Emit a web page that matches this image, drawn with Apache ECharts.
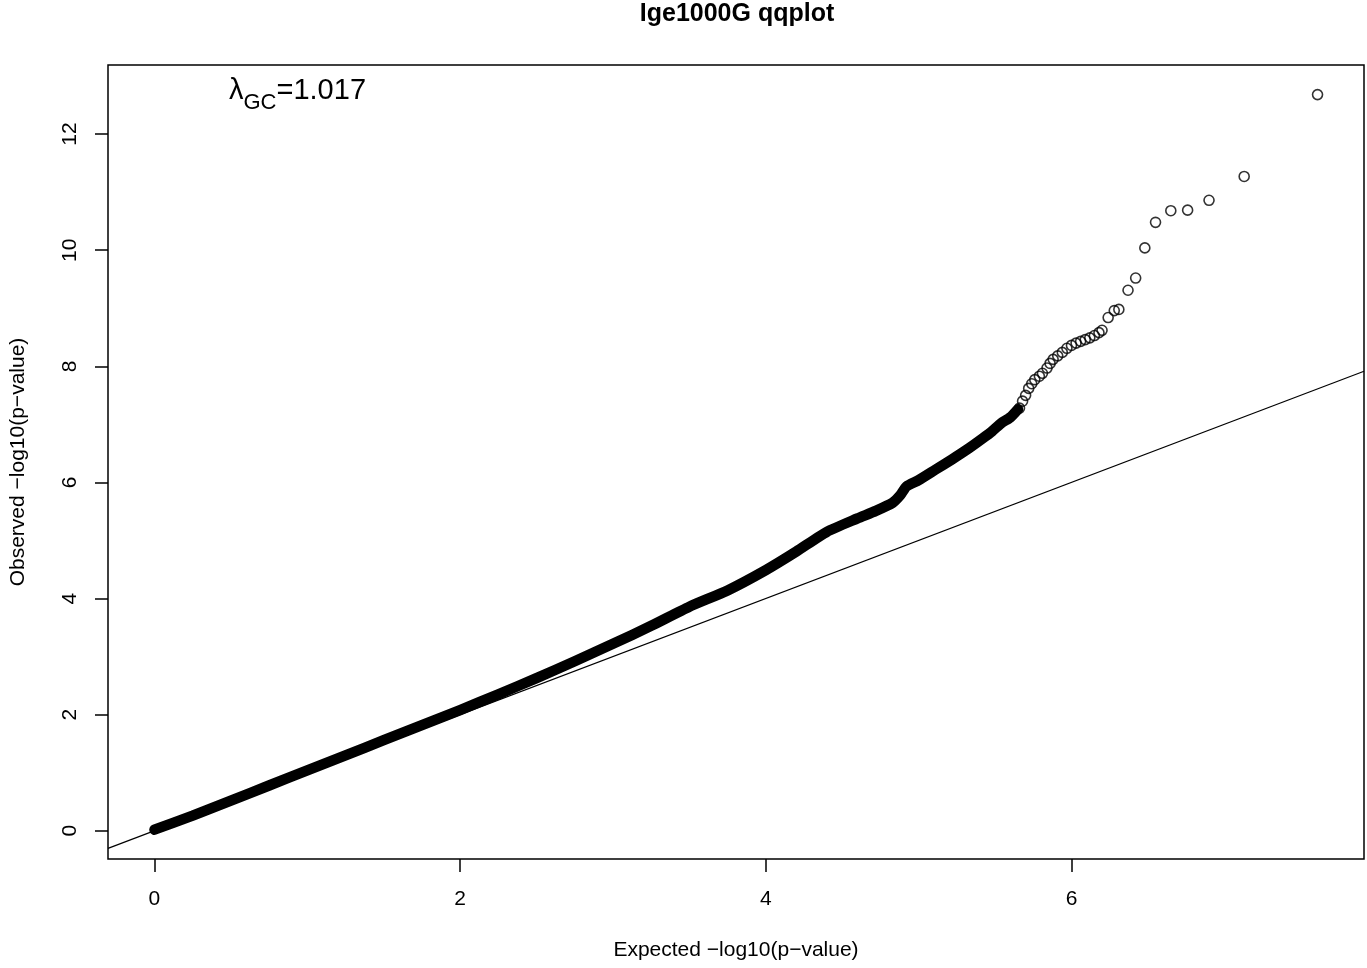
<!DOCTYPE html>
<html>
<head>
<meta charset="utf-8">
<script src="https://cdn.jsdelivr.net/npm/echarts@6.0.0/dist/echarts.min.js"></script>
<style>
  html, body { margin: 0; padding: 0; background: #fff; }
  #main { width: 1367px; height: 968px; }
</style>
</head>
<body>
<div id="main"></div>
<script>
// dense part of the qq curve
const denseExpected = [0.00, 0.25, 0.50, 0.75, 1.00, 1.25, 1.50, 1.75, 2.00, 2.25, 2.50, 2.75, 3.00, 3.25, 3.50, 3.75, 4.00,
  4.20, 4.40, 4.60, 4.72, 4.83, 4.88, 4.92, 5.00, 5.11, 5.22, 5.33, 5.42, 5.48, 5.54, 5.60, 5.65]
const denseObserved = [0.02, 0.26, 0.52, 0.78, 1.04, 1.30, 1.56, 1.82, 2.08, 2.35, 2.63, 2.92, 3.22, 3.53, 3.86, 4.14, 4.49,
  4.81, 5.15, 5.38, 5.51, 5.65, 5.78, 5.93, 6.04, 6.22, 6.40, 6.59, 6.76, 6.88, 7.02, 7.12, 7.26]

// sparse tail, single circles
const tailExpected = [5.66, 5.68, 5.70, 5.72, 5.74, 5.76, 5.79, 5.81, 5.84, 5.86, 5.88, 5.91, 5.94, 5.97,
  6.00, 6.03, 6.06, 6.09, 6.12, 6.15, 6.18, 6.20, 6.24, 6.28, 6.31, 6.37, 6.42, 6.48, 6.55, 6.65, 6.76, 6.90, 7.13, 7.61]
const tailObserved = [7.28, 7.40, 7.50, 7.62, 7.70, 7.77, 7.83, 7.88, 7.97, 8.05, 8.12, 8.18, 8.24, 8.31,
  8.36, 8.40, 8.43, 8.46, 8.49, 8.53, 8.58, 8.62, 8.84, 8.96, 8.98, 9.31, 9.52, 10.04, 10.48, 10.68, 10.69, 10.86, 11.27, 12.68]

const xTicks = [0, 2, 4, 6]
const yTicks = [0, 2, 4, 6, 8, 10, 12]
// R pads the data range by 4% on each side
const xLim = [-0.304, 7.914]
const yLim = [-0.486, 13.19]

const lambdaGC = '1.017'
const font = '"Liberation Sans", Arial, Helvetica, sans-serif'

const chart = echarts.init(document.getElementById('main'))

function axis(lim, ticks, extra) {
  return Object.assign({
    type: 'value',
    min: lim[0],
    max: lim[1],
    splitLine: { show: false },
    axisLine: { show: false, onZero: false },
    axisTick: {
      show: true,
      inside: false,
      length: 13,
      customValues: ticks,
      lineStyle: { color: '#000', width: 1.5 },
    },
    nameLocation: 'middle',
    nameTextStyle: { color: '#000', fontSize: 21, fontFamily: font },
  }, extra)
}

chart.setOption({
  animation: false,
  backgroundColor: '#fff',
  grid: {
    left: 106,
    right: 3,
    top: 65,
    bottom: 109,
    show: true,
    borderColor: '#000',
    borderWidth: 1.5,
    backgroundColor: 'transparent',
  },
  xAxis: axis(xLim, xTicks, {
    name: 'Expected \u2212log10(p\u2212value)',
    nameGap: 81,
    axisLabel: { customValues: xTicks, margin: 30, color: '#000', fontSize: 21, fontFamily: font },
  }),
  yAxis: axis(yLim, yTicks, {
    name: 'Observed \u2212log10(p\u2212value)',
    nameGap: 79,
    axisLabel: { customValues: yTicks, rotate: 90, margin: 27, color: '#000', fontSize: 21, fontFamily: font },
  }),
  graphic: [
    {
      type: 'text',
      x: 737,
      y: 14,
      style: {
        text: 'Ige1000G qqplot',
        align: 'center',
        verticalAlign: 'middle',
        font: 'bold 25px ' + font,
        fill: '#000',
      },
    },
    {
      type: 'text',
      x: 229,
      y: 75,
      style: {
        text: '{a|\u03bb}{s|GC}{a|=' + lambdaGC + '}',
        fill: '#000',
        rich: {
          a: { fontSize: 29, lineHeight: 32, fontFamily: font, fill: '#000' },
          s: { fontSize: 22, lineHeight: 22, padding: [24, 0, 0, 0], fontFamily: font, fill: '#000' },
        },
      },
    },
  ],
  series: [
    {
      name: 'null',
      type: 'line',
      data: [[xLim[0], xLim[0]], [xLim[1], xLim[1]]],
      showSymbol: false,
      symbol: 'none',
      clip: true,
      silent: true,
      lineStyle: { color: '#000', width: 1.2 },
      z: 1,
    },
    {
      name: 'dense',
      type: 'line',
      data: denseExpected.map((x, i) => [x, denseObserved[i]]),
      symbol: 'none',
      smooth: 0.2,
      clip: true,
      lineStyle: { color: '#000', width: 10.5, cap: 'round', join: 'round' },
      z: 2,
    },
    {
      name: 'tail',
      type: 'scatter',
      data: tailExpected.map((x, i) => [x, tailObserved[i]]),
      symbol: 'circle',
      symbolSize: 10,
      itemStyle: { color: 'rgba(0,0,0,0)', borderColor: '#000', borderWidth: 1.6 },
      z: 3,
    },
  ],
})
</script>
</body>
</html>
